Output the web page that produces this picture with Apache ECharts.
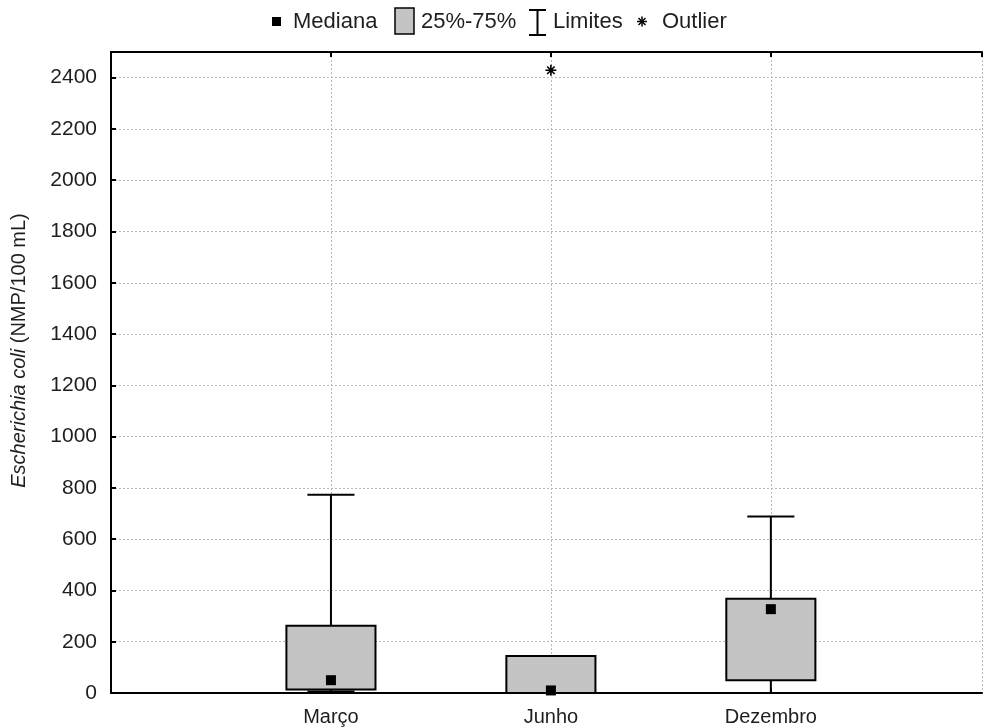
<!DOCTYPE html>
<html>
<head>
<meta charset="utf-8">
<script src="https://cdn.jsdelivr.net/npm/echarts@6/dist/echarts.min.js"></script>
<style>
  html, body { margin: 0; padding: 0; background: #fff; }
  #chart { width: 986px; height: 727px; }
</style>
</head>
<body>
<div id="chart"></div>
<script>
// E. coli counts per sampling month (NMP/100 mL)
const categories = ['Março', 'Junho', 'Dezembro'];
const lowerLimit = [6, 0, 0];
const quartile1 = [14, 0, 50];
const medians = [50, 10, 327];
const quartile3 = [262, 144, 368];
const upperLimit = [773, 144, 688];
const outlierCategory = ['Junho'];
const outlierValues = [2429];
const yTickValues = [0, 200, 400, 600, 800, 1000, 1200, 1400, 1600, 1800, 2000, 2200, 2400];

const FONT = '"Liberation Sans", Arial, sans-serif';
const TEXT = '#1e1e1e';
const BOX_W = 0.405;   // box width in category units
const CAP_W = 0.214;   // whisker cap width in category units

const pos = name => categories.indexOf(name) + 1;

const boxData = categories.map((c, i) => [i + 1, quartile1[i], quartile3[i]]);
const whiskerData = categories.map((c, i) => [i + 1, lowerLimit[i], quartile1[i], quartile3[i], upperLimit[i]]);
const medianData = categories.map((c, i) => [i + 1, medians[i]]);
const outlierData = outlierCategory.map((c, i) => [pos(c), outlierValues[i]]);

const chart = echarts.init(document.getElementById('chart'), null, { renderer: 'canvas' });

const gridLine = { show: true, lineStyle: { color: '#b8b8b8', width: 1, type: [2, 2] } };

// small helper for the legend's line glyphs
const seg = (x1, y1, x2, y2, w) => ({
  type: 'line', shape: { x1: x1, y1: y1, x2: x2, y2: y2 }, style: { stroke: '#000', lineWidth: w || 2 }
});

const option = {
  animation: false,
  backgroundColor: '#fff',
  textStyle: { fontFamily: FONT },
  grid: { left: 111, right: 4, top: 52, bottom: 34, containLabel: false, outerBoundsMode: 'none' },
  xAxis: [
    {
      type: 'value', position: 'bottom', min: 0, max: 3.96, interval: 1,
      axisLine: { show: true, onZero: false, lineStyle: { color: '#000', width: 2 } },
      axisTick: { show: true, inside: true, length: 5, lineStyle: { color: '#000', width: 2 } },
      axisLabel: {
        margin: 14, fontSize: 20, color: TEXT, fontFamily: FONT,
        showMinLabel: false, showMaxLabel: false,
        formatter: v => categories[Math.round(v) - 1] || ''
      },
      splitLine: gridLine
    },
    {
      type: 'value', position: 'top', min: 0, max: 3.96, interval: 1,
      axisLine: { show: true, onZero: false, lineStyle: { color: '#000', width: 2 } },
      axisTick: { show: true, inside: true, length: 5, lineStyle: { color: '#000', width: 2 } },
      axisLabel: { show: false },
      splitLine: { show: false }
    }
  ],
  yAxis: {
    type: 'value', min: 0, max: 2500, interval: 200,
    axisLine: { show: true, lineStyle: { color: '#000', width: 2 } },
    axisTick: { show: true, inside: true, length: 5, lineStyle: { color: '#000', width: 2 } },
    axisLabel: {
      margin: 14, fontSize: 21, color: TEXT, fontFamily: FONT, showMaxLabel: false,
      formatter: v => (yTickValues.indexOf(v) >= 0 ? String(v) : '')
    },
    splitLine: gridLine,
    name: '{it|Escherichia coli} (NMP/100 mL)',
    nameLocation: 'middle',
    nameRotate: 90,
    nameGap: 82,
    nameTextStyle: {
      fontSize: 20, color: TEXT, fontFamily: FONT,
      padding: [0, 0, 0, 44],
      rich: { it: { fontStyle: 'italic', fontSize: 20, color: TEXT, fontFamily: FONT } }
    }
  },
  series: [
    {
      name: 'Limites',
      type: 'custom',
      z: 3,
      data: whiskerData,
      renderItem: function (params, api) {
        const x = api.value(0);
        const unit = api.size([1, 0])[0];
        const half = unit * CAP_W / 2;
        const pLo = api.coord([x, api.value(1)]);
        const pQ1 = api.coord([x, api.value(2)]);
        const pQ3 = api.coord([x, api.value(3)]);
        const pHi = api.coord([x, api.value(4)]);
        const st = { stroke: '#000', lineWidth: 2 };
        const kids = [];
        if (api.value(4) > api.value(3)) {
          kids.push({ type: 'line', shape: { x1: pQ3[0], y1: pQ3[1], x2: pHi[0], y2: pHi[1] }, style: st });
          kids.push({ type: 'line', shape: { x1: pHi[0] - half, y1: pHi[1], x2: pHi[0] + half, y2: pHi[1] }, style: st });
        }
        if (api.value(2) > api.value(1)) {
          kids.push({ type: 'line', shape: { x1: pQ1[0], y1: pQ1[1], x2: pLo[0], y2: pLo[1] }, style: st });
          kids.push({ type: 'line', shape: { x1: pLo[0] - half, y1: pLo[1], x2: pLo[0] + half, y2: pLo[1] }, style: st });
        }
        return { type: 'group', children: kids };
      }
    },
    {
      name: '25%-75%',
      type: 'custom',
      z: 4,
      data: boxData,
      renderItem: function (params, api) {
        const x = api.value(0);
        const unit = api.size([1, 0])[0];
        const w = unit * BOX_W;
        const pTop = api.coord([x, api.value(2)]);
        const pBot = api.coord([x, api.value(1)]);
        return {
          type: 'rect',
          shape: { x: pTop[0] - w / 2, y: pTop[1], width: w, height: pBot[1] - pTop[1] },
          style: { fill: '#c4c4c4', stroke: '#000', lineWidth: 2 }
        };
      }
    },
    {
      name: 'Mediana',
      type: 'scatter',
      z: 5,
      symbol: 'rect',
      symbolSize: 10,
      itemStyle: { color: '#000', opacity: 1 },
      data: medianData
    },
    {
      name: 'Outlier',
      type: 'scatter',
      z: 5,
      symbol: 'path://M5,0L5,10M0,5L10,5M1.6,1.6L8.4,8.4M8.4,1.6L1.6,8.4',
      symbolSize: 11,
      itemStyle: { color: 'none', borderColor: '#000', borderWidth: 1.6, opacity: 1 },
      data: outlierData
    }
  ],
  graphic: [
    // legend row
    { type: 'rect', shape: { x: 272, y: 17, width: 9, height: 9 }, style: { fill: '#000' } },
    { type: 'text', x: 293, y: 22, style: { text: 'Mediana', font: '22px ' + FONT, fill: TEXT, verticalAlign: 'middle' } },
    { type: 'rect', shape: { x: 395, y: 8, width: 19, height: 26 }, style: { fill: '#c4c4c4', stroke: '#000', lineWidth: 1.5 } },
    { type: 'text', x: 421, y: 22, style: { text: '25%-75%', font: '22px ' + FONT, fill: TEXT, verticalAlign: 'middle' } },
    seg(529, 10, 546, 10),
    seg(537.5, 10, 537.5, 35),
    seg(529, 35, 546, 35),
    { type: 'text', x: 553, y: 22, style: { text: 'Limites', font: '22px ' + FONT, fill: TEXT, verticalAlign: 'middle' } },
    seg(642, 16.5, 642, 26.5, 1.5),
    seg(637, 21.5, 647, 21.5, 1.5),
    seg(638.5, 18, 645.5, 25, 1.5),
    seg(645.5, 18, 638.5, 25, 1.5),
    { type: 'text', x: 662, y: 22, style: { text: 'Outlier', font: '22px ' + FONT, fill: TEXT, verticalAlign: 'middle' } }
  ]
};

chart.setOption(option);
</script>
</body>
</html>
